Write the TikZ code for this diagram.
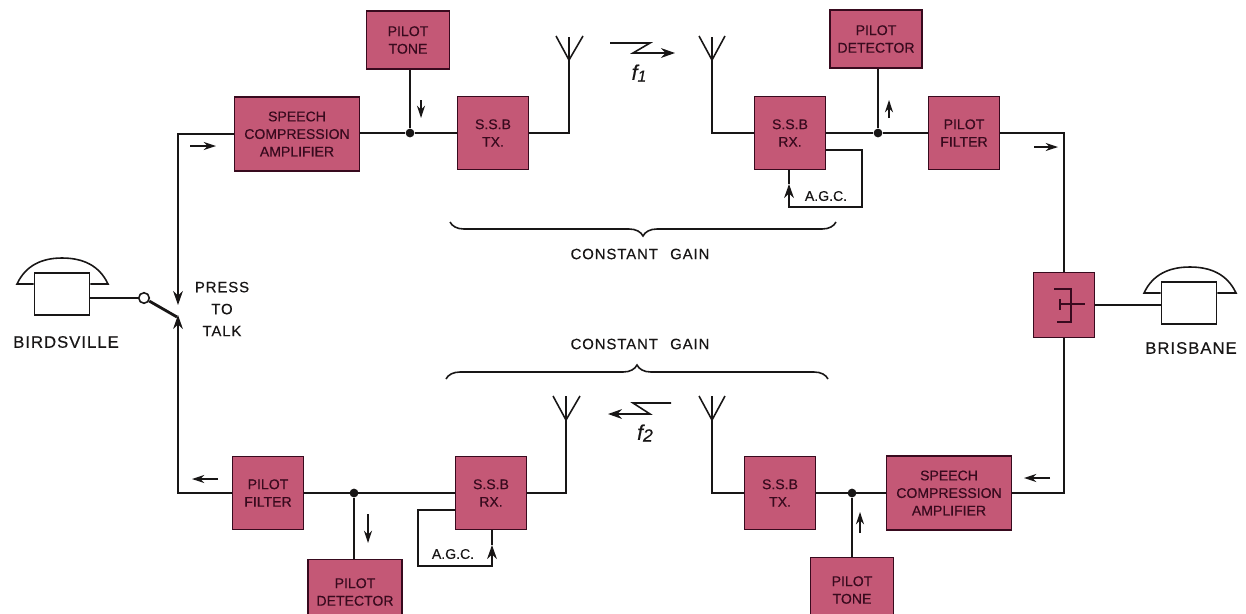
\documentclass[tikz,border=0pt]{standalone}
\usepackage{fontspec}
\setmainfont[FakeBold=0.4]{Liberation Sans}
\newfontfamily\wordfont[LetterSpace=6,FakeBold=0.4]{Liberation Sans}
\usetikzlibrary{arrows.meta,decorations.pathreplacing}
\definecolor{blockpink}{RGB}{196,88,118}
\definecolor{blockink}{RGB}{56,10,30}
\definecolor{lineink}{RGB}{24,22,22}
\tikzset{
    blockbox/.style={draw=blockink, line width=1pt, fill=blockpink, text=blockink, align=center, inner sep=0pt},
    compbox/.style={blockbox, minimum width=2.5cm, minimum height=1.48cm},
    ssbbox/.style={blockbox, minimum width=1.42cm, minimum height=1.46cm},
    pilotbox/.style={blockbox, minimum width=1.66cm, minimum height=1.16cm},
    phonebox/.style={draw=lineink, fill=white, minimum width=1.1cm, minimum height=0.84cm, inner sep=0pt},
    joint/.style={circle, fill=lineink, minimum size=5pt, inner sep=0pt},
    flow/.style={-{Stealth[length=7pt,width=4.6pt]}, line width=0.8pt},
    spacedlabel/.style={font=\wordfont\fontsize{8.5}{11}\selectfont, text=lineink, align=center}
}

\begin{document}
\begin{tikzpicture}[x=0.02cm, y=-0.02cm, >={Stealth[length=8pt,width=5.6pt]}, line width=0.9pt, draw=lineink, font=\fontsize{8}{10}\selectfont]
    \clip (0,0) rectangle (1246,613);

    % Upper path
    \node[pilotbox] (tone1) at (408,40) {PILOT\\TONE};
    \node[compbox] (comp1) at (297,134) {SPEECH\\COMPRESSION\\AMPLIFIER};
    \node[ssbbox] (tx1) at (493,133) {S.S.B\\TX.};
    \node[ssbbox] (rx1) at (790,133) {S.S.B\\RX.};
    \node[pilotbox, minimum width=1.84cm] (det1) at (876,39) {PILOT\\DETECTOR};
    \node[ssbbox] (filt1) at (964,133) {PILOT\\FILTER};
    \node[joint] (j1) at (410,133) {};
    \node[joint] (j2) at (878,133) {};

    % Lower path
    \node[compbox] (comp2) at (949,493) {SPEECH\\COMPRESSION\\AMPLIFIER};
    \node[ssbbox] (tx2) at (780,493) {S.S.B\\TX.};
    \node[ssbbox] (rx2) at (491,493) {S.S.B\\RX.};
    \node[ssbbox] (filt2) at (268,493) {PILOT\\FILTER};
    \node[pilotbox, minimum width=1.88cm, minimum height=1.3cm] (det2) at (355,592) {PILOT\\DETECTOR};
    \node[pilotbox, minimum height=1.3cm] (tone2) at (852,590) {PILOT\\TONE};
    \node[joint] (j3) at (354,493) {};
    \node[joint] (j4) at (852,493) {};

    % Hybrid
    \node[blockbox, minimum width=1.22cm, minimum height=1.3cm] (hyb) at (1064,305) {};
    \draw[blockink] (1054,289) -- (1071,289) -- (1071,322) -- (1057,322);
    \draw[blockink] (1060,304) -- (1085,304);
    \draw[blockink, line width=1.4pt] (1060,299) -- (1060,310);

    % Telephones
    \node[phonebox] (bird) at (62,294) {};
    \node[phonebox] (bris) at (1189,303) {};
    \draw (bird.west |- 0,284) -- (17,284) to[out=65,in=180] (62,258) to[out=0,in=115] (108,284) -- (bird.east |- 0,284);
    \draw (bris.west |- 0,293) -- (1144,293) to[out=65,in=180] (1190,267) to[out=0,in=115] (1236,293) -- (bris.east |- 0,293);
    \node[spacedlabel, font=\wordfont\fontsize{9.5}{11}\selectfont] (birdname) at (66,342) {BIRDSVILLE};
    \node[spacedlabel, font=\wordfont\fontsize{9.5}{11}\selectfont] (brisname) at (1191,348) {BRISBANE};

    % Switch
    \node[draw=lineink, fill=white, circle, minimum size=6pt, inner sep=0pt] (sw) at (144,298) {};
    \coordinate (armend) at (177,317);
    \coordinate (swtop) at (178,305);
    \coordinate (swbot) at (178,315);
    \draw (bird.east |- sw) -- (sw);
    \draw[line width=1.6pt] (sw) -- (armend);
    \node[spacedlabel, text width=2cm, font=\wordfont\fontsize{8.5}{12.5}\selectfont] (press) at (222,309) {PRESS\\TO\\TALK};

    % Connections
    \draw[->] (comp1.west) -| (swtop);
    \draw[->] (filt2.west) -| (swbot);
    \draw (comp1.east |- j1) -- (j1) -- (tx1);
    \draw (rx1) -- (j2) -- (filt1);
    \draw (tone1.south -| j1) -- (j1);
    \draw (det1.south -| j2) -- (j2);
    \draw (filt1.east) -| (hyb.north);
    \draw (hyb.south) |- (comp2.east);
    \draw (hyb.east) -- (bris.west |- hyb.east);
    \draw (comp2) -- (tx2);
    \draw (rx2) -- (filt2);
    \draw (tone2.north -| j4) -- (j4);
    \draw (det2.north -| j3) -- (j3);

    % Aerials
    \coordinate (ant1) at (569,37);
    \coordinate (ant2) at (712,37);
    \coordinate (ant3) at (566,396);
    \coordinate (ant4) at (712,396);
    \draw (tx1.east) -| (ant1);
    \draw (ant2) |- (rx1.west);
    \draw (rx2.east) -| (ant3);
    \draw (ant4) |- (tx2.west);
    \draw (556,36) -- (569,60) -- (583,36);
    \draw (699,36) -- (712,60) -- (725,36);
    \draw (553,396) -- (566,420) -- (580,396);
    \draw (699,396) -- (712,420) -- (725,396);

    % A.G.C. loops
    \coordinate (agc1) at (862,207);
    \coordinate (agc2) at (418,566);
    \coordinate (agctip1) at (789,184);
    \coordinate (agctip2) at (492,545);
    \draw[->] (rx1.east |- 0,150) -- (862,150) -- (agc1) -- (789,207) -- (agctip1);
    \draw (agctip1) -- (rx1.south -| agctip1);
    \draw[->] (rx2.west |- 0,510) -- (418,510) -- (agc2) -- (492,566) -- (agctip2);
    \draw (agctip2) -- (rx2.south -| agctip2);
    \node[font=\fontsize{8}{10}\selectfont, text=lineink] (agctext1) at (826,196) {A.G.C.};
    \node[font=\fontsize{8}{10}\selectfont, text=lineink] (agctext2) at (453,554) {A.G.C.};

    % Radio paths
    \coordinate (zz1) at (610,43);
    \coordinate (zz2) at (671,403);
    \draw[->] (zz1) -- (650,43) -- (633,53) -- (675,53);
    \draw[->] (zz2) -- (633,403) -- (650,414) -- (608,414);
    \node[font=\itshape\fontsize{12}{12}\selectfont, text=lineink] (f1) at (639,73) {f\raisebox{-1pt}{\fontsize{9}{9}\selectfont 1}};
    \node[font=\itshape\fontsize{12}{12}\selectfont, text=lineink] (f2) at (645,433) {f\raisebox{-1pt}{\fontsize{10}{10}\selectfont 2}};

    % Constant gain
    \coordinate (bra1) at (450,222);
    \coordinate (bra2) at (836,222);
    \coordinate (bra3) at (446,379);
    \coordinate (bra4) at (828,379);
    \draw[decorate, decoration={brace, mirror, amplitude=0.28cm}] (bra1) -- (bra2);
    \draw[decorate, decoration={brace, amplitude=0.28cm}] (bra3) -- (bra4);
    \node[spacedlabel] (gain1) at (640,254) {CONSTANT\hspace{7pt}GAIN};
    \node[spacedlabel] (gain2) at (640,344) {CONSTANT\hspace{7pt}GAIN};

    % Direction arrows
    \coordinate (d1) at (190,146);
    \coordinate (d2) at (421,100);
    \coordinate (d3) at (889,118);
    \coordinate (d4) at (1034,147);
    \coordinate (d5) at (1050,478);
    \coordinate (d6) at (860,533);
    \coordinate (d7) at (218,479);
    \coordinate (d8) at (368,514);
    \draw[flow] (d1) -- ++(26,0);
    \draw[flow] (d2) -- ++(0,18);
    \draw[flow] (d3) -- ++(0,-18);
    \draw[flow] (d4) -- ++(24,0);
    \draw[flow] (d5) -- ++(-26,0);
    \draw[flow] (d6) -- ++(0,-21);
    \draw[flow] (d7) -- ++(-26,0);
    \draw[flow] (d8) -- ++(0,29);
\end{tikzpicture}
\end{document}
